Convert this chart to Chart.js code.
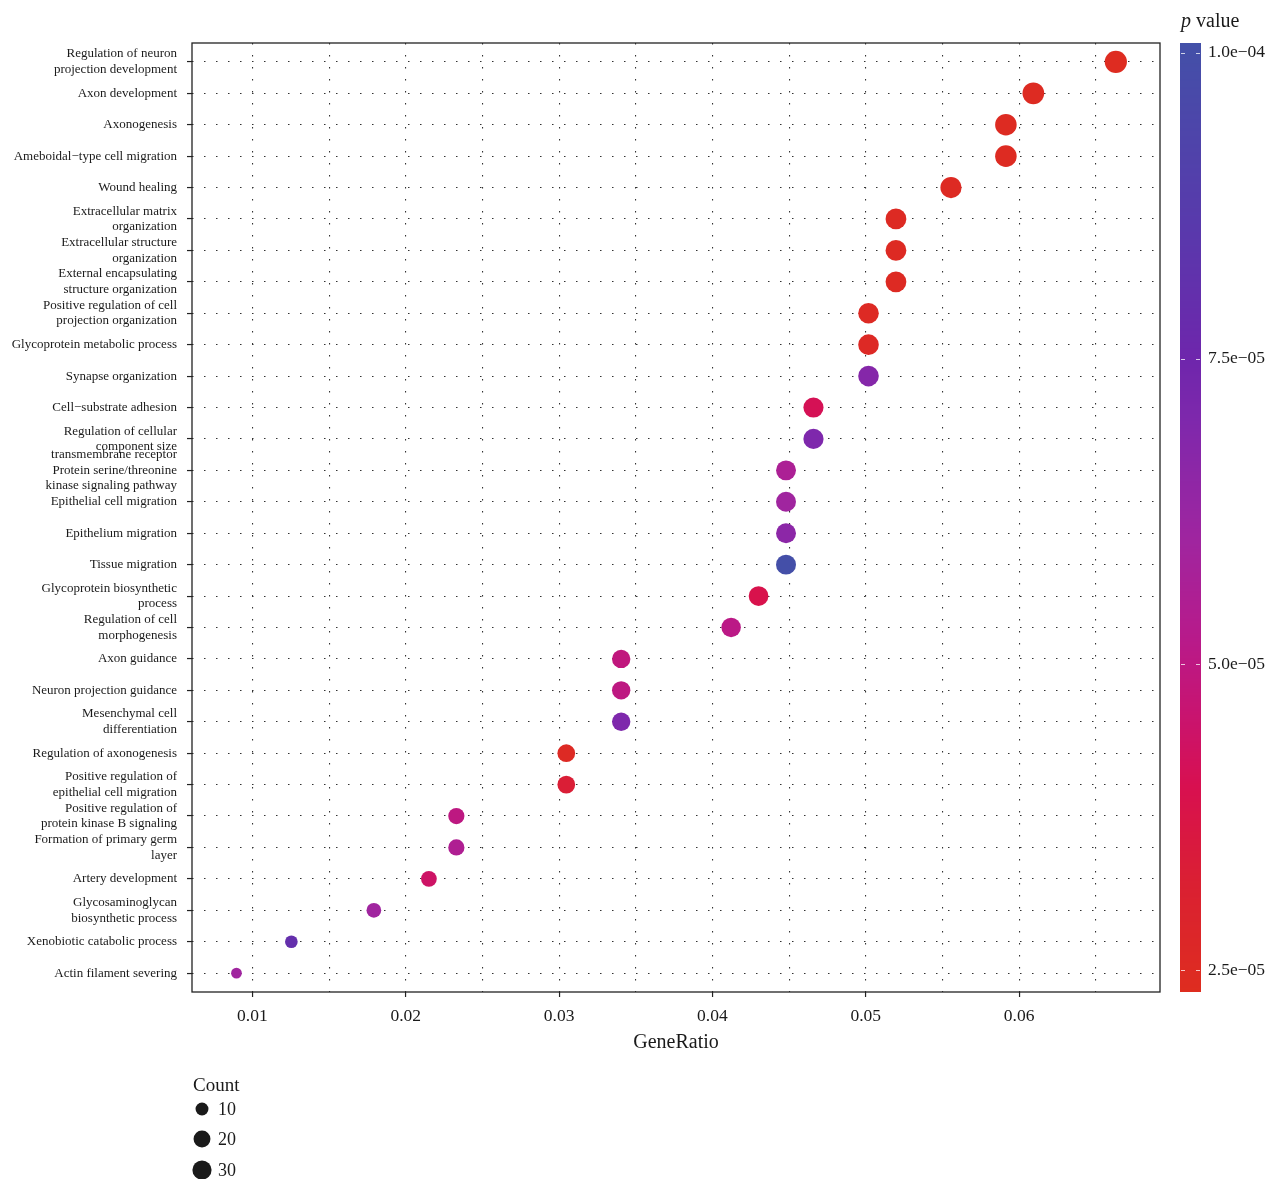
<!DOCTYPE html>
<html><head><meta charset="utf-8">
<script src="https://cdn.jsdelivr.net/npm/chart.js@4.4.1/dist/chart.umd.min.js"></script>
<style>html,body{margin:0;padding:0;background:#fff;}canvas{display:block;}</style>
</head><body>
<canvas id="c" width="1276" height="1179"></canvas>
<script>
// ---------- DATA ----------
const categories = [
  ["Regulation of neuron","projection development"],
  "Axon development",
  "Axonogenesis",
  "Ameboidal\u2212type cell migration",
  "Wound healing",
  ["Extracellular matrix","organization"],
  ["Extracellular structure","organization"],
  ["External encapsulating","structure organization"],
  ["Positive regulation of cell","projection organization"],
  "Glycoprotein metabolic process",
  "Synapse organization",
  "Cell\u2212substrate adhesion",
  ["Regulation of cellular","component size"],
  ["transmembrane receptor","Protein serine/threonine","kinase signaling pathway"],
  "Epithelial cell migration",
  "Epithelium migration",
  "Tissue migration",
  ["Glycoprotein biosynthetic","process"],
  ["Regulation of cell","morphogenesis"],
  "Axon guidance",
  "Neuron projection guidance",
  ["Mesenchymal cell","differentiation"],
  "Regulation of axonogenesis",
  ["Positive regulation of","epithelial cell migration"],
  ["Positive regulation of","protein kinase B signaling"],
  ["Formation of primary germ","layer"],
  "Artery development",
  ["Glycosaminoglycan","biosynthetic process"],
  "Xenobiotic catabolic process",
  "Actin filament severing"
];
const counts = [37,34,33,33,31,29,29,29,28,28,28,26,26,25,25,25,25,24,23,19,19,19,17,17,13,13,12,10,7,5];
const geneRatio = [0.06631,0.06093,0.05914,0.05914,0.05556,0.05197,0.05197,0.05197,0.05018,0.05018,0.05018,0.04659,0.04659,0.04480,0.04480,0.04480,0.04480,0.04301,0.04122,0.03405,0.03405,0.03405,0.03047,0.03047,0.02330,0.02330,0.02151,0.01792,0.01254,0.00896];
const pValues = [2.40e-5,2.45e-5,2.45e-5,2.45e-5,2.50e-5,2.50e-5,2.50e-5,2.50e-5,2.55e-5,2.60e-5,6.8e-5,4.1e-5,7.0e-5,5.6e-5,6.0e-5,6.6e-5,1.0e-4,3.9e-5,5.1e-5,4.9e-5,5.0e-5,7.0e-5,2.55e-5,3.3e-5,5.0e-5,5.5e-5,4.4e-5,6.0e-5,8.0e-5,6.0e-5];
const xMajorTicks = [0.01,0.02,0.03,0.04,0.05,0.06];
const xMajorLabels = ["0.01","0.02","0.03","0.04","0.05","0.06"];
const xMinorTicks = [0.015,0.025,0.035,0.045,0.055,0.065];
const pTickValues = [2.5e-5,5.0e-5,7.5e-5,1.0e-4];
const pTickLabels = ["2.5e\u221205","5.0e\u221205","7.5e\u221205","1.0e\u221204"];
const sizeLegendValues = [10,20,30];
const sizeLegendLabels = ["10","20","30"];

// ---------- SCALES / STYLE ----------
const X_MIN = 0.00606, X_MAX = 0.06919;
const P_MIN = 2.32e-5, P_MAX = 1.008e-4;
const pStops = [
  [2.32e-5,[222,45,31]],
  [3.2e-5,[218,32,50]],
  [4.0e-5,[216,16,80]],
  [4.6e-5,[200,20,112]],
  [5.2e-5,[184,26,138]],
  [6.0e-5,[160,37,159]],
  [7.0e-5,[126,40,172]],
  [7.5e-5,[110,38,172]],
  [8.5e-5,[90,56,172]],
  [1.008e-4,[67,80,168]]
];
function pColor(p){
  if(p<=pStops[0][0]) return 'rgb('+pStops[0][1].join(',')+')';
  for(let i=1;i<pStops.length;i++){
    if(p<=pStops[i][0]){
      const [p0,c0]=pStops[i-1],[p1,c1]=pStops[i];
      const t=(p-p0)/(p1-p0);
      return 'rgb('+c0.map((v,k)=>Math.round(v+(c1[k]-v)*t)).join(',')+')';
    }
  }
  return 'rgb('+pStops[pStops.length-1][1].join(',')+')';
}
function radiusFor(c){ return 0.8 + 2.85*Math.log(c); }
const FONT = "'Liberation Serif','DejaVu Serif',serif";
const TXT = '#1a1a1a';

const points = geneRatio.map((g,i)=>({x:g,y:i}));

function noPad(s){ s.paddingTop=0; s.paddingBottom=0; s.paddingLeft=0; s.paddingRight=0; }

const deco = {
  id:'deco',
  afterDraw(chart){
    const {ctx, chartArea:a, scales} = chart;
    ctx.save();
    // panel border
    ctx.strokeStyle='#222'; ctx.lineWidth=1.3;
    ctx.strokeRect(a.left, a.top, a.right-a.left, a.bottom-a.top);
    // colour bar
    const pc = scales.pc;
    const bx=1180, bw=21;
    for(let y=Math.floor(pc.top); y<Math.ceil(pc.bottom); y++){
      ctx.fillStyle = pColor(pc.getValueForPixel(y+0.5));
      ctx.fillRect(bx,y,bw,1);
    }
    ctx.strokeStyle='rgba(255,255,255,0.75)'; ctx.lineWidth=1.2;
    pTickValues.forEach(v=>{
      const y=Math.round(pc.getPixelForValue(v))+0.5;
      ctx.beginPath(); ctx.moveTo(bx+1,y); ctx.lineTo(bx+5,y); ctx.moveTo(bx+bw-5,y); ctx.lineTo(bx+bw-1,y); ctx.stroke();
    });
    // colour bar title
    ctx.fillStyle=TXT; ctx.textBaseline='alphabetic'; ctx.textAlign='left';
    ctx.font='italic 20px '+FONT;
    ctx.fillText('p',1181,27);
    const pw=ctx.measureText('p').width;
    ctx.font='20px '+FONT;
    ctx.fillText(' value',1181+pw,27);
    // size legend
    ctx.font='19px '+FONT;
    ctx.fillText('Count',193,1091);
    const ly=[1109,1139,1170];
    sizeLegendValues.forEach((v,i)=>{
      ctx.fillStyle=TXT;
      ctx.beginPath(); ctx.arc(202,ly[i],radiusFor(v)-0.9,0,Math.PI*2); ctx.fill();
      ctx.font='18px '+FONT; ctx.textBaseline='middle';
      ctx.fillText(sizeLegendLabels[i],218,ly[i]+1);
    });
    ctx.restore();
  }
};

new Chart(document.getElementById('c'),{
  type:'scatter',
  data:{datasets:[{
    data:points,
    pointBackgroundColor:pValues.map(pColor),
    pointBorderWidth:0,
    pointRadius:counts.map(radiusFor),
    pointHoverRadius:counts.map(radiusFor)
  }]},
  options:{
    responsive:false, animation:false, devicePixelRatio:1,
    layout:{padding:{top:43,bottom:123,left:0,right:0}},
    plugins:{legend:{display:false},tooltip:{enabled:false}},
    events:[],
    scales:{
      x:{
        type:'linear', position:'bottom', min:X_MIN, max:X_MAX,
        afterBuildTicks:s=>{ s.ticks = xMajorTicks.concat(xMinorTicks).sort((a,b)=>a-b).map(v=>({value:v})); },
        afterFit:s=>{ s.height=64; noPad(s); },
        ticks:{
          autoSkip:false, maxRotation:0, padding:9, color:TXT,
          font:{family:FONT,size:17.5},
          callback:v=>{ const k=xMajorTicks.findIndex(m=>Math.abs(m-v)<1e-9); return k>=0?xMajorLabels[k]:''; }
        },
        grid:{
          color:'#333', lineWidth:1.1, tickLength:5, tickWidth:1.2,
          tickColor:ctx=>xMajorTicks.some(m=>Math.abs(m-ctx.tick.value)<1e-9)?'#222':'rgba(0,0,0,0)',
          tickBorderDash:[]
        },
        border:{display:false, dash:[1.5,10.5]},
        title:{display:true,text:'GeneRatio',color:TXT,font:{family:FONT,size:20},padding:{top:0,bottom:1}}
      },
      y:{
        type:'linear', position:'left', reverse:true, min:-0.6, max:categories.length-1+0.6,
        afterBuildTicks:s=>{ s.ticks = categories.map((_,i)=>({value:i})); },
        afterFit:s=>{ s.width=192; noPad(s); },
        ticks:{
          autoSkip:false, padding:10, color:TXT,
          font:{family:FONT,size:13,lineHeight:1.2},
          callback:v=>categories[v]
        },
        grid:{color:'#333', lineWidth:1.1, tickLength:5, tickWidth:1.2, tickColor:'#222', tickBorderDash:[]},
        border:{display:false, dash:[1.5,10.5]}
      },
      pc:{
        type:'linear', position:'right', min:P_MIN, max:P_MAX,
        afterBuildTicks:s=>{ s.ticks = pTickValues.map(v=>({value:v})); },
        afterFit:s=>{ s.width=116; noPad(s); },
        ticks:{
          autoSkip:false, padding:48, color:TXT, font:{family:FONT,size:17.5},
          callback:(v,i)=>pTickLabels[i]
        },
        grid:{display:false, drawTicks:false, drawOnChartArea:false},
        border:{display:false}
      }
    }
  },
  plugins:[deco]
});
</script>
</body></html>
